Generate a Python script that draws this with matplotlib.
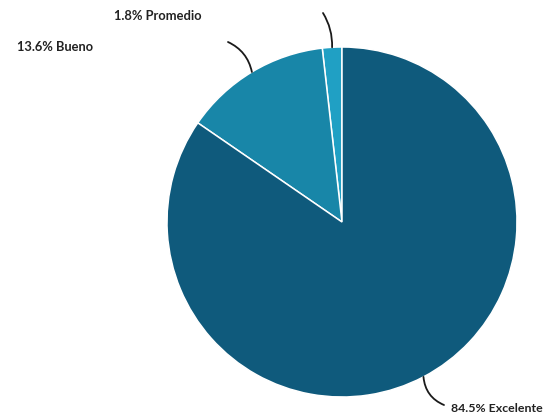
import matplotlib
matplotlib.use("Agg")
import matplotlib.pyplot as plt
import numpy as np

# data
labels = ["Promedio", "Bueno", "Excelente"]
shares = [1.8, 13.6, 84.5]
colors = ["#20a0c4", "#1886a8", "#0f5a7c"]

fig = plt.figure(figsize=(5.45, 4.2), dpi=100)
ax = fig.add_axes([0, 0, 1, 1])
ax.set_xlim(0, 545)
ax.set_ylim(0, 420)
ax.set_aspect("equal")
ax.axis("off")

center = (342, 198)
radius = 175
wedges, _ = ax.pie(shares, colors=colors, startangle=90, counterclock=True,
                   center=center, radius=radius, normalize=True,
                   wedgeprops=dict(edgecolor="white", linewidth=1.1))
ax.set_xlim(0, 545)
ax.set_ylim(0, 420)

# label text placement + where the leader line ends
label_pos = {
    "Promedio": dict(text=(158, 404), ha="center", line_end=(323, 407), rad=-0.15, size=9.3),
    "Bueno": dict(text=(17, 373), ha="left", line_end=(228, 378), rad=-0.25, size=9.3),
    "Excelente": dict(text=(451, 12), ha="left", line_end=(444, 15), rad=-0.3, size=8.9),
}

for w, lab, val in zip(wedges, labels, shares):
    mid = np.deg2rad((w.theta1 + w.theta2) / 2)
    edge = (center[0] + radius * np.cos(mid), center[1] + radius * np.sin(mid))
    p = label_pos[lab]
    ax.annotate("", xy=edge, xytext=p["line_end"],
                arrowprops=dict(arrowstyle="-", color="#1a1a1a", lw=1.3,
                                shrinkA=0, shrinkB=0,
                                connectionstyle=f"arc3,rad={p['rad']}"))
    ax.text(p["text"][0], p["text"][1], f"{val}% {lab}", ha=p["ha"], va="center",
            fontsize=p["size"], fontweight="bold", family="Lato", color="#222222")

fig.savefig("out.png", dpi=100)
